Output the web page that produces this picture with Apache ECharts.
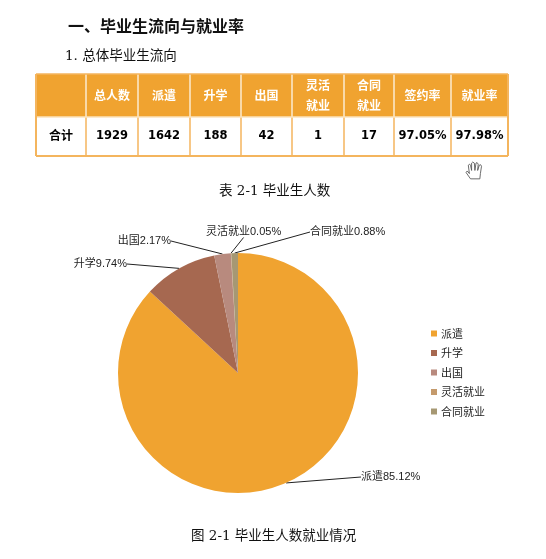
<!DOCTYPE html>
<html><head><meta charset="utf-8">
<style>html,body{margin:0;padding:0;background:#fff}#c{width:546px;height:559px}</style>
<script src="https://cdn.jsdelivr.net/npm/echarts@6/dist/echarts.min.js"></script>
</head><body><div id="c"></div>
<script>
const categories = ['派遣','升学','出国','灵活就业','合同就业'];
const counts = [1642,188,42,1,17];
const rates = ['85.12%','9.74%','2.17%','0.05%','0.88%'];
const colors = ['#F0A330','#A66850','#B88A7E','#C49A6C','#A69873'];
const tableHeader = ['','总人数','派遣','升学','出国','灵活\n就业','合同\n就业','签约率','就业率'];
const tableRow = ['合计','1929','1642','188','42','1','17','97.05%','97.98%'];
const colEdges = [36,86,138,190,241,292,344,394,451,508];
const rowEdges = [74,117,156];
const CJK = '"Noto Sans CJK SC"';
const SERIF = '"DejaVu Serif","Noto Sans CJK SC"';
const labelSpots = [
  {x:361,y:477,align:'left'},
  {x:127,y:264,align:'right'},
  {x:171,y:241,align:'right'},
  {x:206,y:232,align:'left'},
  {x:310,y:232,align:'left'}
];
const els = [];
const txt = (x,y,t,size,o={}) => els.push({type:'text',x,y,silent:true,style:Object.assign({text:t,fill:'#111',font:`${o.weight||'normal'} ${size}px ${SERIF}`,align:'left',verticalAlign:'middle',lineHeight:o.lh||size},o.style||{})});
txt(68,28,'一、毕业生流向与就业率',16,{weight:'bold'});
txt(65,56,'1. 总体毕业生流向',13.5);
txt(219,191,'表 2-1 毕业生人数',13.5);
txt(191,536,'图 2-1 毕业生人数就业情况',13.5);
const L = colEdges[0], R = colEdges[colEdges.length-1];
els.push({type:'rect',shape:{x:L,y:rowEdges[0],width:R-L,height:rowEdges[1]-rowEdges[0]},style:{fill:'#F0A330'},silent:true});
const line=(x1,y1,x2,y2,stroke,w)=>els.push({type:'line',shape:{x1,y1,x2,y2},style:{stroke,lineWidth:w},silent:true});
colEdges.slice(1,-1).forEach(x=>{
  line(x,rowEdges[0],x,rowEdges[1],'#FCEBD0',1.5);
  line(x,rowEdges[1],x,rowEdges[2],'#F4B55E',1.5);
});
line(L,rowEdges[1],R,rowEdges[1],'#FBE3BE',1.5);
line(L,rowEdges[2],R,rowEdges[2],'#F4B55E',2);
line(L,rowEdges[0],L,rowEdges[2],'#F4B55E',2);
line(R,rowEdges[0],R,rowEdges[2],'#F4B55E',2);
line(L,rowEdges[0],R,rowEdges[0],'#F4B55E',1.5);
tableHeader.forEach((t,i)=>{
  const cx=(colEdges[i]+colEdges[i+1])/2;
  els.push({type:'text',x:cx,y:(rowEdges[0]+rowEdges[1])/2,silent:true,style:{text:t,fill:'#fff',font:`bold 12px ${CJK}`,align:'center',verticalAlign:'middle',lineHeight:20}});
});
tableRow.forEach((t,i)=>{
  const cx=(colEdges[i]+colEdges[i+1])/2;
  const size = i===0 ? 12 : 11.5;
  els.push({type:'text',x:cx,y:(rowEdges[1]+rowEdges[2])/2,silent:true,style:{text:t,fill:'#000',font:`bold ${size}px "DejaVu Sans",${CJK}`,align:'center',verticalAlign:'middle'}});
});
// hand cursor
els.push({type:'polygon',x:465,y:161,scaleX:1.1,scaleY:1.05,silent:true,shape:{points:[[5,17],[1,11],[2,9.5],[4,12],[3,4],[4.2,3],[5,4],[6,9],[6,2],[7,1],[8.5,2],[9,9],[10,2],[11,1.5],[12,3],[11.5,9],[13,4],[14.2,3.5],[15,5],[14,12],[13.5,17]]},style:{fill:'#fff',stroke:'#555',lineWidth:0.8}});

const chart = echarts.init(document.getElementById('c'),null,{renderer:'canvas'});
chart.setOption({
  animation:false,
  color:colors,
  legend:{orient:'vertical',left:426,top:323,itemWidth:6,itemHeight:6,itemGap:8.5,icon:'rect',data:categories,
    textStyle:{fontSize:11,color:'#222',fontFamily:CJK,padding:[0,0,0,-1]}},
  series:[{type:'pie',center:[238,373],radius:[0,120],startAngle:90,clockwise:true,
    data:categories.map((name,i)=>({name,value:counts[i]})),
    itemStyle:{borderWidth:0},
    label:{show:true,formatter:p=>p.name+rates[p.dataIndex],fontSize:11,color:'#222',fontFamily:'"Liberation Sans","Noto Sans CJK SC"'},
    labelLine:{show:true,length:0,length2:0,smooth:false,lineStyle:{color:'#222',width:1}},
    labelLayout:p=>labelSpots[p.dataIndex],
    emphasis:{disabled:true}
  }],
  graphic:{elements:els}
});
</script></body></html>
